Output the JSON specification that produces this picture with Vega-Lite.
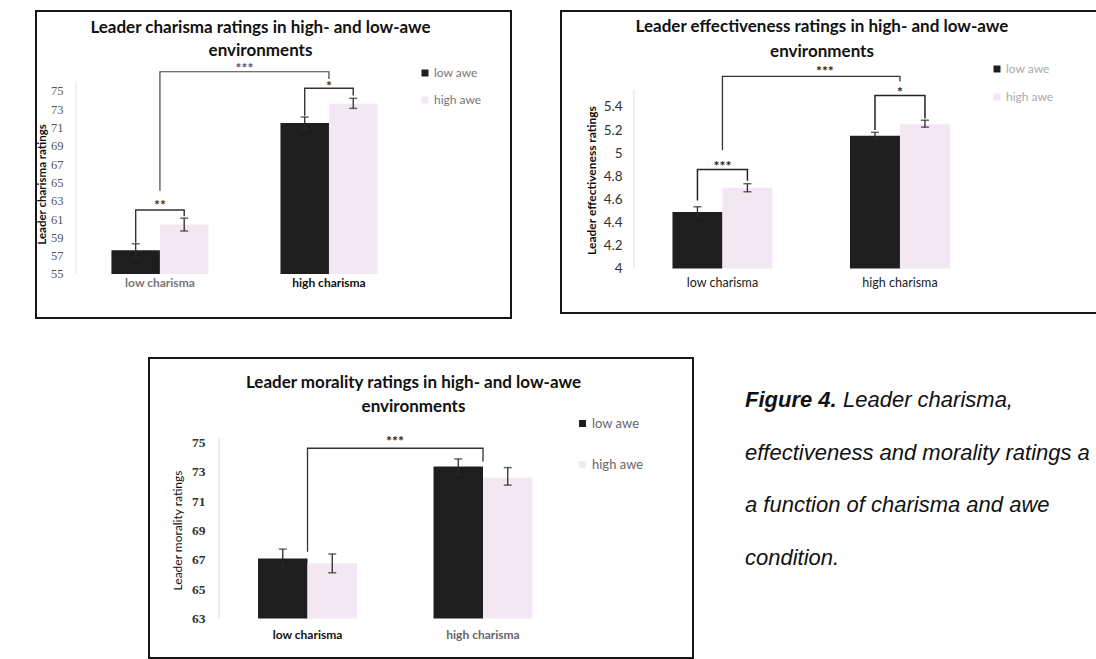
{
  "$schema": "https://vega.github.io/schema/vega-lite/v6.json",
  "background": "white",
  "padding": {"left": 35, "top": 10, "right": 0, "bottom": 0},
  "config": {
    "view": {"stroke": null},
    "axis": {"grid": false, "ticks": false, "domain": false, "tickSize": 0, "labelAngle": 0, "labelOverlap": false},
    "legend": {"title": null, "symbolType": "square", "symbolSize": 49, "symbolStrokeWidth": 0, "labelFont": "Lato", "orient": "none"}
  },
  "datasets": {
    "one": [{"k": 1}],
    "p1": [
      {"charisma": "low charisma", "awe": "low awe", "value": 57.6, "lo": 56.9, "hi": 58.3},
      {"charisma": "low charisma", "awe": "high awe", "value": 60.4, "lo": 59.7, "hi": 61.1},
      {"charisma": "high charisma", "awe": "low awe", "value": 71.5, "lo": 70.85, "hi": 72.15},
      {"charisma": "high charisma", "awe": "high awe", "value": 73.6, "lo": 73.1, "hi": 74.2}
    ],
    "p1in": [
      {"b": "L", "charisma": "low charisma", "awe": "low awe", "y": 58.4, "o": 1},
      {"b": "L", "charisma": "low charisma", "awe": "low awe", "y": 62.0, "o": 2},
      {"b": "L", "charisma": "low charisma", "awe": "high awe", "y": 62.0, "o": 3},
      {"b": "L", "charisma": "low charisma", "awe": "high awe", "y": 61.3, "o": 4},
      {"b": "H", "charisma": "high charisma", "awe": "low awe", "y": 72.3, "o": 1},
      {"b": "H", "charisma": "high charisma", "awe": "low awe", "y": 75.3, "o": 2},
      {"b": "H", "charisma": "high charisma", "awe": "high awe", "y": 75.3, "o": 3},
      {"b": "H", "charisma": "high charisma", "awe": "high awe", "y": 74.5, "o": 4}
    ],
    "p1big": [
      {"charisma": "low charisma", "y": 64.1, "o": 1},
      {"charisma": "low charisma", "y": 77.1, "o": 2},
      {"charisma": "high charisma", "y": 77.1, "o": 3},
      {"charisma": "high charisma", "y": 76.3, "o": 4}
    ],
    "p1st": [
      {"charisma": "low charisma", "y": 62.76, "s": "**"},
      {"charisma": "high charisma", "y": 75.8, "s": "*"}
    ],
    "p1bs": [{"charisma": "low charisma", "y": 77.73, "s": "***"}],
    "p2": [
      {"charisma": "low charisma", "awe": "low awe", "value": 4.49, "lo": 4.45, "hi": 4.535},
      {"charisma": "low charisma", "awe": "high awe", "value": 4.70, "lo": 4.665, "hi": 4.735},
      {"charisma": "high charisma", "awe": "low awe", "value": 5.15, "lo": 5.125, "hi": 5.18},
      {"charisma": "high charisma", "awe": "high awe", "value": 5.25, "lo": 5.225, "hi": 5.285}
    ],
    "p2in": [
      {"b": "L", "charisma": "low charisma", "awe": "low awe", "y": 4.59, "o": 1},
      {"b": "L", "charisma": "low charisma", "awe": "low awe", "y": 4.857, "o": 2},
      {"b": "L", "charisma": "low charisma", "awe": "high awe", "y": 4.857, "o": 3},
      {"b": "L", "charisma": "low charisma", "awe": "high awe", "y": 4.76, "o": 4},
      {"b": "H", "charisma": "high charisma", "awe": "low awe", "y": 5.2, "o": 1},
      {"b": "H", "charisma": "high charisma", "awe": "low awe", "y": 5.5, "o": 2},
      {"b": "H", "charisma": "high charisma", "awe": "high awe", "y": 5.5, "o": 3},
      {"b": "H", "charisma": "high charisma", "awe": "high awe", "y": 5.3, "o": 4}
    ],
    "p2big": [
      {"charisma": "low charisma", "y": 5.025, "o": 1},
      {"charisma": "low charisma", "y": 5.665, "o": 2},
      {"charisma": "high charisma", "y": 5.665, "o": 3},
      {"charisma": "high charisma", "y": 5.62, "o": 4}
    ],
    "p2st": [
      {"charisma": "low charisma", "y": 4.906, "s": "***"},
      {"charisma": "high charisma", "y": 5.547, "s": "*"}
    ],
    "p2bs": [{"charisma": "low charisma", "y": 5.729, "s": "***"}],
    "p3": [
      {"charisma": "low charisma", "awe": "low awe", "value": 67.1, "lo": 66.5, "hi": 67.73},
      {"charisma": "low charisma", "awe": "high awe", "value": 66.76, "lo": 66.12, "hi": 67.4},
      {"charisma": "high charisma", "awe": "low awe", "value": 73.37, "lo": 72.83, "hi": 73.89},
      {"charisma": "high charisma", "awe": "high awe", "value": 72.6, "lo": 72.1, "hi": 73.3}
    ],
    "p3big": [
      {"charisma": "low charisma", "y": 67.55, "o": 1},
      {"charisma": "low charisma", "y": 74.62, "o": 2},
      {"charisma": "high charisma", "y": 74.62, "o": 3},
      {"charisma": "high charisma", "y": 73.71, "o": 4}
    ],
    "p3bs": [{"charisma": "low charisma", "y": 75.25, "s": "***"}],
    "cap1": [{"line": 1, "t": "Figure 4."}],
    "cap2": [{"line": 1, "t": "Leader charisma,"}],
    "cap3": [
      {"line": 2, "t": "effectiveness and morality ratings a"},
      {"line": 3, "t": "a function of charisma and awe"},
      {"line": 4, "t": "condition."}
    ]
  },
  "resolve": {"scale": {"color": "independent", "xOffset": "independent"}, "legend": {"color": "independent"}},
  "spacing": 38,
  "vconcat": [
    {
      "spacing": 48,
      "resolve": {"scale": {"color": "independent", "xOffset": "independent"}, "legend": {"color": "independent"}},
      "hconcat": [
        {
          "width": 475, "height": 307,
          "view": {"stroke": "#161616", "strokeWidth": 2},
          "title": {"text": ["Leader charisma ratings in high- and low-awe", "environments"], "frame": "group", "anchor": "middle", "offset": -49, "baseline": "top", "dx": -13, "font": "Lato", "fontSize": 17, "fontWeight": "bold", "lineHeight": 23, "color": "#111"},
          "resolve": {"scale": {"y": "independent"}, "axis": {"y": "independent"}},
          "layer": [
            {
              "data": {"name": "p1"},
              "layer": [
                {
                  "data": {"name": "one"},
                  "mark": {"type": "rule", "color": "#e6e6e6", "strokeWidth": 1},
                  "encoding": {"x": {"datum": "low charisma", "bandPosition": -0.366}, "y": {"datum": 55}, "y2": {"datum": 76}}
                },
                {
                  "mark": {"type": "bar"},
                  "encoding": {
                    "x": {"field": "charisma", "type": "nominal", "title": null,
                      "scale": {"domain": ["low charisma", "high charisma"], "paddingInner": 0.426, "paddingOuter": 0.618, "align": 0.361, "round": false},
                      "axis": {"offset": -44, "labelPadding": 3, "labelFont": "Lato", "labelFontSize": 12, "labelFontWeight": "bold", "labelColor": {"condition": {"test": "datum.value == 'low charisma'", "value": "#777"}, "value": "#111"}}},
                    "xOffset": {"field": "awe", "type": "nominal", "scale": {"domain": ["low awe", "high awe"], "paddingInner": 0, "paddingOuter": 0}},
                    "y": {"field": "value", "type": "quantitative", "title": "Leader charisma ratings",
                      "scale": {"domain": [50.19, 83.74], "nice": false, "zero": false},
                      "axis": {"orient": "left", "values": [55, 59, 63, 67, 71, 75], "labelOverlap": false, "offset": -40, "labelPadding": 13, "labelFont": "Liberation Serif", "labelFontSize": 12.5, "labelColor": "#555", "titleFont": "Lato", "titleFontSize": 11.5, "titleFontWeight": "bold", "titleColor": "#111", "titlePadding": 3, "titleY": 173}},
                    "y2": {"datum": 55},
                    "color": {"field": "awe", "type": "nominal", "scale": {"domain": ["low awe", "high awe"], "range": ["#1e1e1e", "#f2e8f2"]},
                      "legend": {"legendX": 383, "legendY": 56, "rowPadding": 15, "labelOffset": 3, "labelFontSize": 12, "labelColor": "#777"}}
                  }
                },
                {
                  "mark": {"type": "rule", "color": "#2a2a2a", "strokeWidth": 1.3},
                  "encoding": {"x": {"field": "charisma", "type": "nominal"}, "xOffset": {"field": "awe", "type": "nominal"}, "y": {"field": "lo", "type": "quantitative"}, "y2": {"field": "hi"}}
                },
                {
                  "mark": {"type": "tick", "color": "#2a2a2a", "size": 8, "thickness": 1.5},
                  "encoding": {"x": {"field": "charisma", "type": "nominal"}, "xOffset": {"field": "awe", "type": "nominal"}, "y": {"field": "hi", "type": "quantitative"}}
                },
                {
                  "mark": {"type": "tick", "color": "#2a2a2a", "size": 8, "thickness": 1.5},
                  "encoding": {"x": {"field": "charisma", "type": "nominal"}, "xOffset": {"field": "awe", "type": "nominal"}, "y": {"field": "lo", "type": "quantitative"}}
                },
                {
                  "data": {"name": "p1in"},
                  "mark": {"type": "line", "color": "#333", "strokeWidth": 1.4},
                  "encoding": {"x": {"field": "charisma", "type": "nominal"}, "xOffset": {"field": "awe", "type": "nominal"}, "y": {"field": "y", "type": "quantitative"}, "detail": {"field": "b"}, "order": {"field": "o", "type": "quantitative"}}
                },
                {
                  "data": {"name": "p1big"},
                  "mark": {"type": "line", "color": "#444", "strokeWidth": 1.2},
                  "encoding": {"x": {"field": "charisma", "type": "nominal"}, "y": {"field": "y", "type": "quantitative"}, "order": {"field": "o", "type": "quantitative"}}
                },
                {
                  "data": {"name": "p1st"},
                  "mark": {"type": "text", "font": "Lato", "fontSize": 14, "fontWeight": "bold", "color": "#333", "dy": 3},
                  "encoding": {"x": {"field": "charisma", "type": "nominal"}, "y": {"field": "y", "type": "quantitative"}, "text": {"field": "s"}}
                },
                {
                  "data": {"name": "p1bs"},
                  "mark": {"type": "text", "font": "Lato", "fontSize": 14, "fontWeight": "bold", "color": "#555", "dy": 3},
                  "encoding": {"x": {"field": "charisma", "type": "nominal", "bandPosition": 1.371}, "y": {"field": "y", "type": "quantitative"}, "text": {"field": "s"}}
                }
              ]
            },
            {
              "data": {"name": "p1"},
              "mark": {"type": "rule", "opacity": 0},
              "encoding": {
                "y": {"field": "value", "type": "quantitative", "title": null,
                  "scale": {"domain": [50.19, 83.74], "nice": false, "zero": false},
                  "axis": {"orient": "left", "values": [57, 61, 65, 69, 73], "labelOverlap": false, "offset": -40, "labelPadding": 13, "labelFont": "Liberation Serif", "labelFontSize": 12.5, "labelColor": "#555", "title": null}}
              }
            }
          ]
        },
        {
          "width": 537, "height": 302,
          "view": {"stroke": "#161616", "strokeWidth": 2},
          "title": {"text": ["Leader effectiveness ratings in high- and low-awe", "environments"], "frame": "group", "anchor": "middle", "offset": -50, "baseline": "top", "dx": -7.5, "font": "Lato", "fontSize": 17, "fontWeight": "bold", "lineHeight": 25, "color": "#111"},
          "data": {"name": "p2"},
          "layer": [
            {
              "data": {"name": "one"},
              "mark": {"type": "rule", "color": "#dedede", "strokeWidth": 1},
              "encoding": {"x": {"datum": "low charisma", "bandPosition": -0.385}, "y": {"datum": 4}, "y2": {"datum": 5.55}}
            },
            {
              "mark": {"type": "bar"},
              "encoding": {
                "x": {"field": "charisma", "type": "nominal", "title": null,
                  "scale": {"domain": ["low charisma", "high charisma"], "paddingInner": 0.437, "paddingOuter": 0.731, "align": 0.4295, "round": false},
                  "axis": {"offset": -44.5, "labelPadding": 7.5, "labelFont": "Lato", "labelFontSize": 12.5, "labelColor": "#222"}},
                "xOffset": {"field": "awe", "type": "nominal", "scale": {"domain": ["low awe", "high awe"], "paddingInner": 0, "paddingOuter": 0}},
                "y": {"field": "value", "type": "quantitative", "title": "Leader effectiveness ratings",
                  "scale": {"domain": [3.614, 6.232], "nice": false, "zero": false},
                  "axis": {"values": [4, 4.2, 4.4, 4.6, 4.8, 5, 5.2, 5.4], "labelOverlap": false, "format": "~g", "offset": -73, "labelPadding": 12, "labelFont": "Lato", "labelFontSize": 13.5, "labelColor": "#333", "titleFont": "Lato", "titleFontSize": 12, "titleFontWeight": "bold", "titleColor": "#111", "titlePadding": 5, "titleY": 169}},
                "y2": {"datum": 4},
                "color": {"field": "awe", "type": "nominal", "scale": {"domain": ["low awe", "high awe"], "range": ["#1e1e1e", "#f2e8f2"]},
                  "legend": {"legendX": 430, "legendY": 52, "rowPadding": 16, "labelOffset": 3, "labelFontSize": 12, "labelColor": "#aaa"}}
              }
            },
            {
              "mark": {"type": "rule", "color": "#2a2a2a", "strokeWidth": 1.3},
              "encoding": {"x": {"field": "charisma", "type": "nominal"}, "xOffset": {"field": "awe", "type": "nominal"}, "y": {"field": "lo", "type": "quantitative"}, "y2": {"field": "hi"}}
            },
            {
              "mark": {"type": "tick", "color": "#2a2a2a", "size": 8, "thickness": 1.5},
              "encoding": {"x": {"field": "charisma", "type": "nominal"}, "xOffset": {"field": "awe", "type": "nominal"}, "y": {"field": "hi", "type": "quantitative"}}
            },
            {
              "mark": {"type": "tick", "color": "#2a2a2a", "size": 8, "thickness": 1.5},
              "encoding": {"x": {"field": "charisma", "type": "nominal"}, "xOffset": {"field": "awe", "type": "nominal"}, "y": {"field": "lo", "type": "quantitative"}}
            },
            {
              "data": {"name": "p2in"},
              "mark": {"type": "line", "color": "#222", "strokeWidth": 1.5},
              "encoding": {"x": {"field": "charisma", "type": "nominal"}, "xOffset": {"field": "awe", "type": "nominal"}, "y": {"field": "y", "type": "quantitative"}, "detail": {"field": "b"}, "order": {"field": "o", "type": "quantitative"}}
            },
            {
              "data": {"name": "p2big"},
              "mark": {"type": "line", "color": "#333", "strokeWidth": 1.3},
              "encoding": {"x": {"field": "charisma", "type": "nominal"}, "y": {"field": "y", "type": "quantitative"}, "order": {"field": "o", "type": "quantitative"}}
            },
            {
              "data": {"name": "p2st"},
              "mark": {"type": "text", "font": "Lato", "fontSize": 14, "fontWeight": "bold", "color": "#222", "dy": 3},
              "encoding": {"x": {"field": "charisma", "type": "nominal"}, "y": {"field": "y", "type": "quantitative"}, "text": {"field": "s"}}
            },
            {
              "data": {"name": "p2bs"},
              "mark": {"type": "text", "font": "Lato", "fontSize": 14, "fontWeight": "bold", "color": "#222", "dy": 3},
              "encoding": {"x": {"field": "charisma", "type": "nominal", "bandPosition": 1.525}, "y": {"field": "y", "type": "quantitative"}, "text": {"field": "s"}}
            }
          ]
        }
      ]
    },
    {
      "spacing": 0,
      "resolve": {"scale": {"color": "independent", "xOffset": "independent"}, "legend": {"color": "independent"}},
      "hconcat": [
        {
          "width": 112, "height": 10,
          "data": {"values": []},
          "mark": {"type": "text"},
          "encoding": {}
        },
        {
          "width": 544, "height": 300,
          "view": {"stroke": "#161616", "strokeWidth": 2},
          "title": {"text": ["Leader morality ratings in high- and low-awe", "environments"], "frame": "group", "anchor": "middle", "offset": -58, "baseline": "top", "dx": -7.5, "font": "Lato", "fontSize": 17, "fontWeight": "bold", "lineHeight": 24, "color": "#111"},
          "data": {"name": "p3"},
          "layer": [
            {
              "data": {"name": "one"},
              "mark": {"type": "rule", "color": "#dcdcdc", "strokeWidth": 1},
              "encoding": {"x": {"datum": "low charisma", "bandPosition": -0.394}, "y": {"datum": 63}, "y2": {"datum": 75.3}}
            },
            {
              "mark": {"type": "bar"},
              "encoding": {
                "x": {"field": "charisma", "type": "nominal", "title": null,
                  "scale": {"domain": ["low charisma", "high charisma"], "paddingInner": 0.436, "paddingOuter": 0.768, "align": 0.4045, "round": false},
                  "axis": {"offset": -40, "labelPadding": 11, "labelFont": "Lato", "labelFontSize": 12, "labelFontWeight": "bold", "labelColor": {"condition": {"test": "datum.value == 'high charisma'", "value": "#666"}, "value": "#111"}}},
                "xOffset": {"field": "awe", "type": "nominal", "scale": {"domain": ["low awe", "high awe"], "paddingInner": 0, "paddingOuter": 0}},
                "y": {"field": "value", "type": "quantitative", "title": "Leader morality ratings",
                  "scale": {"domain": [60.3, 80.78], "nice": false, "zero": false},
                  "axis": {"values": [63, 65, 67, 69, 71, 73, 75], "labelOverlap": false, "offset": -70, "labelPadding": 14, "labelFont": "Liberation Serif", "labelFontSize": 13.5, "labelFontWeight": "bold", "labelColor": "#333", "titleFont": "Lato", "titleFontSize": 12, "titleFontWeight": "normal", "titleColor": "#111", "titlePadding": 7, "titleY": 172}},
                "y2": {"datum": 63},
                "color": {"field": "awe", "type": "nominal", "scale": {"domain": ["low awe", "high awe"], "range": ["#1e1e1e", "#f2e8f2"]},
                  "legend": {"legendX": 427, "legendY": 59, "rowPadding": 27, "labelOffset": 3, "labelFontSize": 13, "labelColor": "#666"}}
              }
            },
            {
              "mark": {"type": "rule", "color": "#2a2a2a", "strokeWidth": 1.3},
              "encoding": {"x": {"field": "charisma", "type": "nominal"}, "xOffset": {"field": "awe", "type": "nominal"}, "y": {"field": "lo", "type": "quantitative"}, "y2": {"field": "hi"}}
            },
            {
              "mark": {"type": "tick", "color": "#2a2a2a", "size": 8, "thickness": 1.5},
              "encoding": {"x": {"field": "charisma", "type": "nominal"}, "xOffset": {"field": "awe", "type": "nominal"}, "y": {"field": "hi", "type": "quantitative"}}
            },
            {
              "mark": {"type": "tick", "color": "#2a2a2a", "size": 8, "thickness": 1.5},
              "encoding": {"x": {"field": "charisma", "type": "nominal"}, "xOffset": {"field": "awe", "type": "nominal"}, "y": {"field": "lo", "type": "quantitative"}}
            },
            {
              "data": {"name": "p3big"},
              "mark": {"type": "line", "color": "#333", "strokeWidth": 1.3},
              "encoding": {"x": {"field": "charisma", "type": "nominal"}, "y": {"field": "y", "type": "quantitative"}, "order": {"field": "o", "type": "quantitative"}}
            },
            {
              "data": {"name": "p3bs"},
              "mark": {"type": "text", "font": "Lato", "fontSize": 14, "fontWeight": "bold", "color": "#222", "dy": 3},
              "encoding": {"x": {"field": "charisma", "type": "nominal", "bandPosition": 1.384}, "y": {"field": "y", "type": "quantitative"}, "text": {"field": "s"}}
            }
          ]
        },
        {
          "width": 102, "height": 242,
          "layer": [
            {
              "data": {"name": "cap1"},
              "mark": {"type": "text", "align": "left", "font": "Liberation Sans", "fontSize": 22, "fontStyle": "italic", "fontWeight": "bold", "color": "#111"},
              "encoding": {"y": {"field": "line", "type": "ordinal", "axis": null, "scale": {"type": "point", "domain": [1, 2, 3, 4], "padding": 0.797}}, "text": {"field": "t"}}
            },
            {
              "data": {"name": "cap2"},
              "mark": {"type": "text", "align": "left", "font": "Liberation Sans", "fontSize": 22, "fontStyle": "italic", "color": "#111", "dx": 98},
              "encoding": {"y": {"field": "line", "type": "ordinal", "axis": null}, "text": {"field": "t"}}
            },
            {
              "data": {"name": "cap3"},
              "mark": {"type": "text", "align": "left", "font": "Liberation Sans", "fontSize": 22, "fontStyle": "italic", "color": "#111"},
              "encoding": {"y": {"field": "line", "type": "ordinal", "axis": null}, "text": {"field": "t"}}
            }
          ]
        }
      ]
    }
  ]
}
